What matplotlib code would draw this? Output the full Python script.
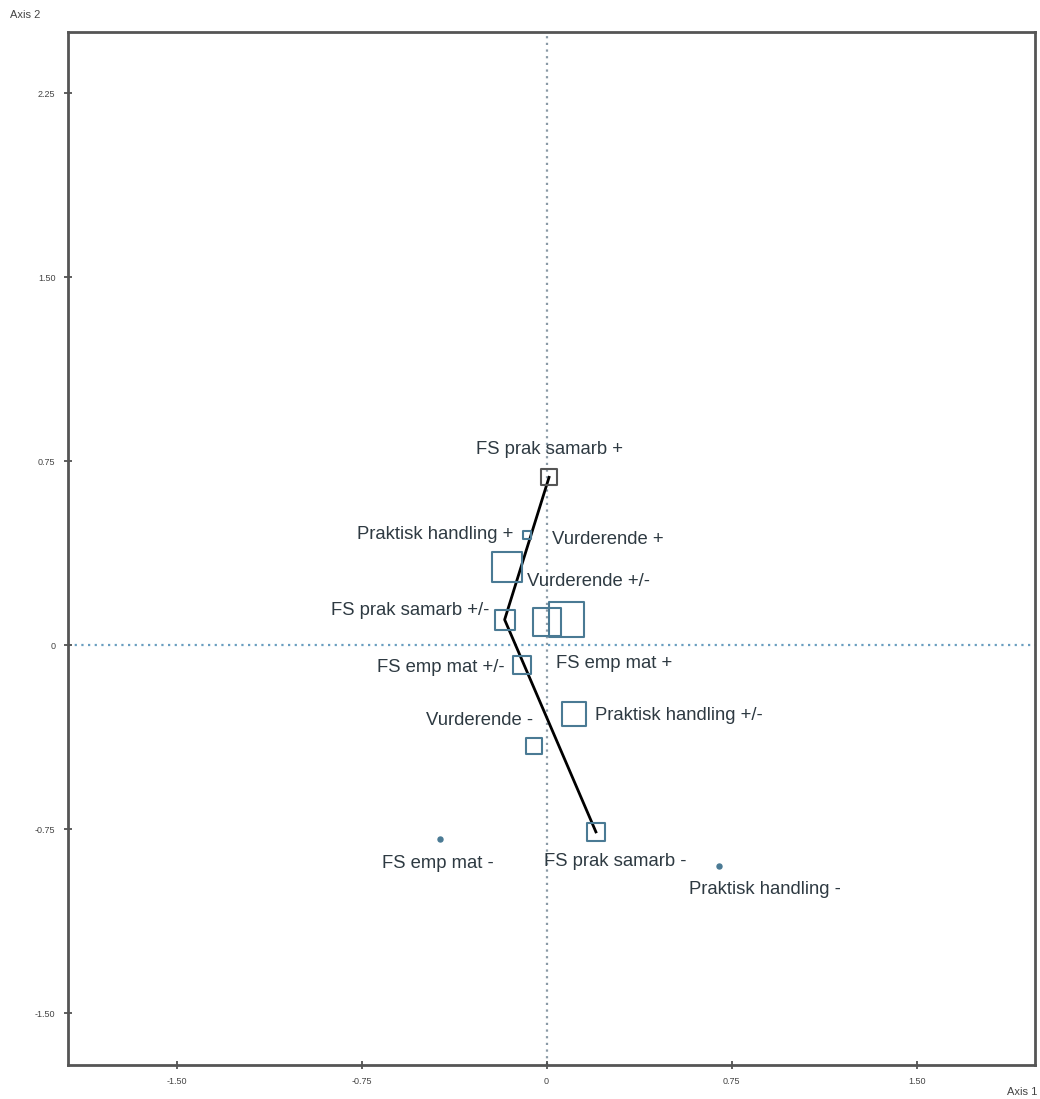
import matplotlib
matplotlib.use("Agg")
import matplotlib.pyplot as plt

plt.rcParams['font.family'] = ['Liberation Sans', 'DejaVu Sans']

# Category coordinates on the two factorial axes
labels = ["FS prak samarb +", "Praktisk handling +", "Vurderende +", "FS prak samarb +/-",
          "FS emp mat +", "Vurderende +/-", "FS emp mat +/-", "Praktisk handling +/-",
          "Vurderende -", "FS prak samarb -", "FS emp mat -", "Praktisk handling -"]
axis1 = [0.01, -0.08, -0.16, -0.17, 0.00, 0.08, -0.10, 0.11, -0.05, 0.20, -0.43, 0.70]
axis2 = [0.685, 0.45, 0.32, 0.105, 0.095, 0.105, -0.08, -0.28, -0.41, -0.76, -0.79, -0.90]
# marker type: square or dot
shape = ["s", "s", "s", "s", "s", "s", "s", "s", "s", "s", "o", "o"]

# connected trajectory
path_labels = ["FS prak samarb +", "FS prak samarb +/-", "FS prak samarb -"]

xticks = [-1.50, -0.75, 0, 0.75, 1.50]
xticklabels = ["-1.50", "-0.75", "0", "0.75", "1.50"]
yticks = [-1.50, -0.75, 0, 0.75, 1.50, 2.25]
yticklabels = ["-1.50", "-0.75", "0", "0.75", "1.50", "2.25"]

# visual styling (pixel sizes and label offsets)
marker_px = [16, 8, 30, 20, 28, 35, 18, 24, 16, 18, 5, 5]
label_off = [(0, 28, 'center'), (-13, 1, 'right'), (45, 27, 'left'), (-15, 9, 'right'),
             (9, -41, 'left'), (-39, 38, 'left'), (-17, -2, 'right'), (21, -1, 'left'),
             (-1, 26, 'right'), (19, -30, 'center'), (-3, -24, 'center'), (46, -23, 'center')]

fig = plt.figure(figsize=(10.4, 10.99), dpi=100)
ax = fig.add_axes([68/1040, 1-1065/1099, (1035-68)/1040, (1065-32)/1099])
ax.set_xlim(-1.94, 1.98)
ax.set_ylim(-1.71, 2.50)

ax.axhline(0, color='#6a9fc0', ls=(0, (1, 2)), lw=1.6, zorder=1)
ax.axvline(0, color='#8a9aa6', ls=(0, (1, 2)), lw=1.6, zorder=1)

idx = [labels.index(l) for l in path_labels]
ax.plot([axis1[i] for i in idx], [axis2[i] for i in idx], color='black', lw=2, zorder=2)

text_color = '#2e3a42'
for i, lab in enumerate(labels):
    col = '#555555' if axis2[i] > 0.5 else '#4a7a94'
    if shape[i] == 's':
        ax.scatter([axis1[i]], [axis2[i]], marker='s', s=(marker_px[i]*0.72)**2,
                   facecolors='none', edgecolors=col, linewidths=1.5, zorder=3)
    else:
        ax.scatter([axis1[i]], [axis2[i]], marker='o', s=(marker_px[i]*0.72)**2,
                   color=col, zorder=3)
    dx, dy, ha = label_off[i]
    ax.annotate(lab, (axis1[i], axis2[i]), xytext=(dx, dy), textcoords='offset pixels',
                ha=ha, va='center', fontsize=13.3, color=text_color, zorder=4)

ax.set_xticks(xticks)
ax.set_xticklabels(xticklabels)
ax.set_yticks(yticks)
ax.set_yticklabels(yticklabels)
ax.tick_params(direction='inout', length=6, width=1.2, labelsize=6.5, colors='#444444', pad=6)
for sp in ax.spines.values():
    sp.set_linewidth(2)
    sp.set_color('#555555')

fig.text(10/1040, 1-15/1099, "Axis 2", fontsize=8, color='#444444', va='center', ha='left')
fig.text(1037/1040, 1-1092/1099, "Axis 1", fontsize=8, color='#444444', va='center', ha='right')

fig.savefig("out.png", dpi=100)
